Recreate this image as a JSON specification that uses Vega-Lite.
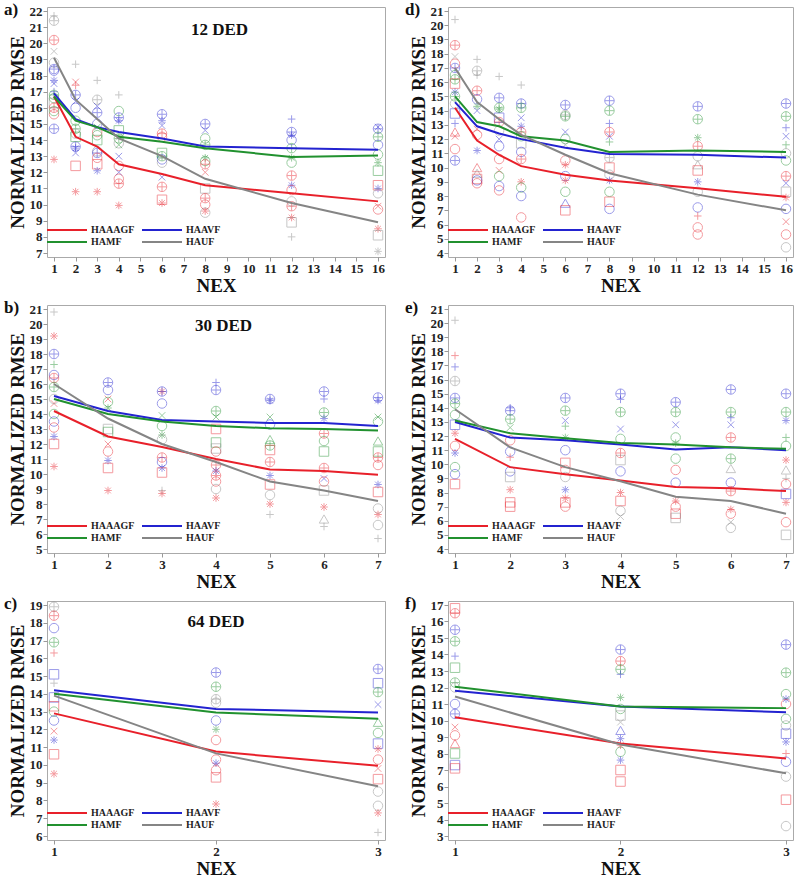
{
  "$schema": "https://vega.github.io/schema/vega-lite/v6.json",
  "padding": {"top": 0, "left": 3, "right": 3, "bottom": 0},
  "background": "white",
  "config": {
    "font": "Liberation Serif",
    "view": {"stroke": "#aaaaaa", "strokeWidth": 1},
    "axis": {
      "labelFont": "Liberation Serif", "labelFontWeight": "bold", "labelFontSize": 13, "labelColor": "#222222",
      "titleFont": "Liberation Serif", "titleFontWeight": "bold", "titleFontSize": 19, "titleColor": "#111111",
      "grid": false, "domain": false, "tickColor": "#999999", "tickSize": 4, "tickCount": 40,
      "labelPadding": 1, "titlePadding": 1, "labelOverlap": false, "labelFlush": false, "format": "d"
    },
    "axisY": {"titlePadding": 2},
    "legend": {
      "orient": "bottom-left", "columns": 2, "symbolType": "M-3.2,0H4.8", "symbolSize": 100,
      "symbolStrokeWidth": 2, "symbolOpacity": 1, "labelFont": "Liberation Serif", "labelFontWeight": "bold",
      "labelFontSize": 10, "labelColor": "#222222", "rowPadding": 1, "columnPadding": 3,
      "labelOffset": 22, "offset": 10, "padding": 0
    },
    "title": {"anchor": "start", "frame": "bounds", "font": "Liberation Serif", "fontSize": 17, "fontWeight": "bold", "color": "#111111", "offset": -14, "dx": -4}
  },
  "datasets": {
    "lns": [
      {"p":"a","x":1,"y":16.7,"m":"HAAAGF"},{"p":"a","x":2,"y":14.2,"m":"HAAAGF"},{"p":"a","x":3,"y":13.6,"m":"HAAAGF"},{"p":"a","x":4,"y":12.5,"m":"HAAAGF"},{"p":"a","x":6,"y":11.9,"m":"HAAAGF"},{"p":"a","x":8,"y":11.2,"m":"HAAAGF"},{"p":"a","x":12,"y":10.7,"m":"HAAAGF"},{"p":"a","x":16,"y":10.2,"m":"HAAAGF"},
      {"p":"a","x":1,"y":16.9,"m":"HAAVF"},{"p":"a","x":2,"y":15.3,"m":"HAAVF"},{"p":"a","x":3,"y":14.8,"m":"HAAVF"},{"p":"a","x":4,"y":14.5,"m":"HAAVF"},{"p":"a","x":6,"y":14.1,"m":"HAAVF"},{"p":"a","x":8,"y":13.6,"m":"HAAVF"},{"p":"a","x":12,"y":13.5,"m":"HAAVF"},{"p":"a","x":16,"y":13.4,"m":"HAAVF"},
      {"p":"a","x":1,"y":16.7,"m":"HAMF"},{"p":"a","x":2,"y":15.2,"m":"HAMF"},{"p":"a","x":3,"y":14.8,"m":"HAMF"},{"p":"a","x":4,"y":14.2,"m":"HAMF"},{"p":"a","x":6,"y":13.9,"m":"HAMF"},{"p":"a","x":8,"y":13.5,"m":"HAMF"},{"p":"a","x":12,"y":12.95,"m":"HAMF"},{"p":"a","x":16,"y":13.05,"m":"HAMF"},
      {"p":"a","x":1,"y":19.1,"m":"HAUF"},{"p":"a","x":2,"y":16.5,"m":"HAUF"},{"p":"a","x":3,"y":15.3,"m":"HAUF"},{"p":"a","x":4,"y":14.1,"m":"HAUF"},{"p":"a","x":6,"y":13.0,"m":"HAUF"},{"p":"a","x":8,"y":11.6,"m":"HAUF"},{"p":"a","x":12,"y":10.1,"m":"HAUF"},{"p":"a","x":16,"y":8.9,"m":"HAUF"},

      {"p":"d","x":1,"y":14.2,"m":"HAAAGF"},{"p":"d","x":2,"y":11.9,"m":"HAAAGF"},{"p":"d","x":3,"y":10.9,"m":"HAAAGF"},{"p":"d","x":4,"y":10.1,"m":"HAAAGF"},{"p":"d","x":6,"y":9.5,"m":"HAAAGF"},{"p":"d","x":8,"y":9.1,"m":"HAAAGF"},{"p":"d","x":12,"y":8.55,"m":"HAAAGF"},{"p":"d","x":16,"y":7.95,"m":"HAAAGF"},
      {"p":"d","x":1,"y":14.6,"m":"HAAVF"},{"p":"d","x":2,"y":12.9,"m":"HAAVF"},{"p":"d","x":3,"y":12.4,"m":"HAAVF"},{"p":"d","x":4,"y":12.0,"m":"HAAVF"},{"p":"d","x":6,"y":11.4,"m":"HAAVF"},{"p":"d","x":8,"y":10.95,"m":"HAAVF"},{"p":"d","x":12,"y":10.9,"m":"HAAVF"},{"p":"d","x":16,"y":10.7,"m":"HAAVF"},
      {"p":"d","x":1,"y":15.0,"m":"HAMF"},{"p":"d","x":2,"y":13.2,"m":"HAMF"},{"p":"d","x":3,"y":12.9,"m":"HAMF"},{"p":"d","x":4,"y":12.2,"m":"HAMF"},{"p":"d","x":6,"y":11.9,"m":"HAMF"},{"p":"d","x":8,"y":11.1,"m":"HAMF"},{"p":"d","x":12,"y":11.2,"m":"HAMF"},{"p":"d","x":16,"y":11.1,"m":"HAMF"},
      {"p":"d","x":1,"y":17.0,"m":"HAUF"},{"p":"d","x":2,"y":14.6,"m":"HAUF"},{"p":"d","x":3,"y":13.4,"m":"HAUF"},{"p":"d","x":4,"y":12.3,"m":"HAUF"},{"p":"d","x":6,"y":10.9,"m":"HAUF"},{"p":"d","x":8,"y":9.6,"m":"HAUF"},{"p":"d","x":12,"y":8.1,"m":"HAUF"},{"p":"d","x":16,"y":7.0,"m":"HAUF"},

      {"p":"b","x":1,"y":14.2,"m":"HAAAGF"},{"p":"b","x":2,"y":12.5,"m":"HAAAGF"},{"p":"b","x":3,"y":11.8,"m":"HAAAGF"},{"p":"b","x":4,"y":11.0,"m":"HAAAGF"},{"p":"b","x":5,"y":10.3,"m":"HAAAGF"},{"p":"b","x":6,"y":10.2,"m":"HAAAGF"},{"p":"b","x":7,"y":9.95,"m":"HAAAGF"},
      {"p":"b","x":1,"y":15.2,"m":"HAAVF"},{"p":"b","x":2,"y":14.2,"m":"HAAVF"},{"p":"b","x":3,"y":13.6,"m":"HAAVF"},{"p":"b","x":4,"y":13.5,"m":"HAAVF"},{"p":"b","x":5,"y":13.4,"m":"HAAVF"},{"p":"b","x":6,"y":13.4,"m":"HAAVF"},{"p":"b","x":7,"y":13.2,"m":"HAAVF"},
      {"p":"b","x":1,"y":15.0,"m":"HAMF"},{"p":"b","x":2,"y":14.0,"m":"HAMF"},{"p":"b","x":3,"y":13.5,"m":"HAMF"},{"p":"b","x":4,"y":13.2,"m":"HAMF"},{"p":"b","x":5,"y":13.05,"m":"HAMF"},{"p":"b","x":6,"y":13.0,"m":"HAMF"},{"p":"b","x":7,"y":12.9,"m":"HAMF"},
      {"p":"b","x":1,"y":16.0,"m":"HAUF"},{"p":"b","x":2,"y":13.7,"m":"HAUF"},{"p":"b","x":3,"y":12.0,"m":"HAUF"},{"p":"b","x":4,"y":10.8,"m":"HAUF"},{"p":"b","x":5,"y":9.5,"m":"HAUF"},{"p":"b","x":6,"y":8.9,"m":"HAUF"},{"p":"b","x":7,"y":8.2,"m":"HAUF"},

      {"p":"e","x":1,"y":11.8,"m":"HAAAGF"},{"p":"e","x":2,"y":9.8,"m":"HAAAGF"},{"p":"e","x":3,"y":9.3,"m":"HAAAGF"},{"p":"e","x":4,"y":8.85,"m":"HAAAGF"},{"p":"e","x":5,"y":8.4,"m":"HAAAGF"},{"p":"e","x":6,"y":8.3,"m":"HAAAGF"},{"p":"e","x":7,"y":8.1,"m":"HAAAGF"},
      {"p":"e","x":1,"y":13.0,"m":"HAAVF"},{"p":"e","x":2,"y":11.9,"m":"HAAVF"},{"p":"e","x":3,"y":11.7,"m":"HAAVF"},{"p":"e","x":4,"y":11.4,"m":"HAAVF"},{"p":"e","x":5,"y":11.05,"m":"HAAVF"},{"p":"e","x":6,"y":11.2,"m":"HAAVF"},{"p":"e","x":7,"y":11.0,"m":"HAAVF"},
      {"p":"e","x":1,"y":13.1,"m":"HAMF"},{"p":"e","x":2,"y":12.2,"m":"HAMF"},{"p":"e","x":3,"y":11.85,"m":"HAMF"},{"p":"e","x":4,"y":11.5,"m":"HAMF"},{"p":"e","x":5,"y":11.4,"m":"HAMF"},{"p":"e","x":6,"y":11.2,"m":"HAMF"},{"p":"e","x":7,"y":11.1,"m":"HAMF"},
      {"p":"e","x":1,"y":13.9,"m":"HAUF"},{"p":"e","x":2,"y":11.2,"m":"HAUF"},{"p":"e","x":3,"y":9.8,"m":"HAUF"},{"p":"e","x":4,"y":8.8,"m":"HAUF"},{"p":"e","x":5,"y":7.7,"m":"HAUF"},{"p":"e","x":6,"y":7.4,"m":"HAUF"},{"p":"e","x":7,"y":6.5,"m":"HAUF"},

      {"p":"c","x":1,"y":12.9,"m":"HAAAGF"},{"p":"c","x":2,"y":10.75,"m":"HAAAGF"},{"p":"c","x":3,"y":9.95,"m":"HAAAGF"},
      {"p":"c","x":1,"y":14.2,"m":"HAAVF"},{"p":"c","x":2,"y":13.15,"m":"HAAVF"},{"p":"c","x":3,"y":12.95,"m":"HAAVF"},
      {"p":"c","x":1,"y":14.0,"m":"HAMF"},{"p":"c","x":2,"y":12.95,"m":"HAMF"},{"p":"c","x":3,"y":12.6,"m":"HAMF"},
      {"p":"c","x":1,"y":13.9,"m":"HAUF"},{"p":"c","x":2,"y":10.65,"m":"HAUF"},{"p":"c","x":3,"y":8.8,"m":"HAUF"},

      {"p":"f","x":1,"y":10.2,"m":"HAAAGF"},{"p":"f","x":2,"y":8.6,"m":"HAAAGF"},{"p":"f","x":3,"y":7.7,"m":"HAAAGF"},
      {"p":"f","x":1,"y":11.8,"m":"HAAVF"},{"p":"f","x":2,"y":10.85,"m":"HAAVF"},{"p":"f","x":3,"y":10.5,"m":"HAAVF"},
      {"p":"f","x":1,"y":12.05,"m":"HAMF"},{"p":"f","x":2,"y":10.85,"m":"HAMF"},{"p":"f","x":3,"y":10.75,"m":"HAMF"},
      {"p":"f","x":1,"y":11.45,"m":"HAUF"},{"p":"f","x":2,"y":8.55,"m":"HAUF"},{"p":"f","x":3,"y":6.8,"m":"HAUF"}
    ],
    "pts": [
      {"p":"a","x":1,"y":21.7,"m":"HAUF","s":"+"},{"p":"a","x":1,"y":21.4,"m":"HAUF","s":"cp"},{"p":"a","x":1,"y":20.2,"m":"HAAAGF","s":"cp"},{"p":"a","x":1,"y":19.5,"m":"HAUF","s":"x"},{"p":"a","x":1,"y":18.8,"m":"HAUF","s":"o"},{"p":"a","x":1,"y":18.4,"m":"HAAVF","s":"cp"},{"p":"a","x":1,"y":18.3,"m":"HAAVF","s":"o"},{"p":"a","x":1,"y":17.7,"m":"HAAVF","s":"*"},{"p":"a","x":1,"y":17.5,"m":"HAAVF","s":"x"},{"p":"a","x":1,"y":17.0,"m":"HAAVF","s":"+"},{"p":"a","x":1,"y":16.6,"m":"HAMF","s":"o"},{"p":"a","x":1,"y":16.8,"m":"HAMF","s":"cp"},{"p":"a","x":1,"y":16.0,"m":"HAAAGF","s":"cp"},{"p":"a","x":1,"y":15.6,"m":"HAAAGF","s":"o"},{"p":"a","x":1,"y":15.8,"m":"HAMF","s":"o"},{"p":"a","x":1,"y":14.7,"m":"HAAVF","s":"cp"},{"p":"a","x":1,"y":12.8,"m":"HAAAGF","s":"*"},{"p":"a","x":1,"y":16.3,"m":"HAUF","s":"sq"},
      {"p":"a","x":2,"y":18.7,"m":"HAUF","s":"+"},{"p":"a","x":2,"y":17.6,"m":"HAAAGF","s":"x"},{"p":"a","x":2,"y":17.4,"m":"HAAAGF","s":"+"},{"p":"a","x":2,"y":16.8,"m":"HAAVF","s":"cp"},{"p":"a","x":2,"y":16.4,"m":"HAAVF","s":"x"},{"p":"a","x":2,"y":16.0,"m":"HAAVF","s":"o"},{"p":"a","x":2,"y":15.2,"m":"HAMF","s":"o"},{"p":"a","x":2,"y":14.7,"m":"HAMF","s":"cp"},{"p":"a","x":2,"y":14.4,"m":"HAUF","s":"o"},{"p":"a","x":2,"y":13.5,"m":"HAAVF","s":"*"},{"p":"a","x":2,"y":13.6,"m":"HAAVF","s":"cp"},{"p":"a","x":2,"y":13.2,"m":"HAAVF","s":"x"},{"p":"a","x":2,"y":12.4,"m":"HAAAGF","s":"sq"},{"p":"a","x":2,"y":10.8,"m":"HAAAGF","s":"*"},{"p":"a","x":2,"y":14.2,"m":"HAMF","s":"sq"},
      {"p":"a","x":3,"y":17.7,"m":"HAUF","s":"+"},{"p":"a","x":3,"y":16.5,"m":"HAUF","s":"cp"},{"p":"a","x":3,"y":16.1,"m":"HAAVF","s":"x"},{"p":"a","x":3,"y":15.7,"m":"HAAVF","s":"cp"},{"p":"a","x":3,"y":15.0,"m":"HAAVF","s":"o"},{"p":"a","x":3,"y":14.8,"m":"HAMF","s":"x"},{"p":"a","x":3,"y":14.5,"m":"HAAAGF","s":"o"},{"p":"a","x":3,"y":14.0,"m":"HAMF","s":"sq"},{"p":"a","x":3,"y":13.3,"m":"HAUF","s":"o"},{"p":"a","x":3,"y":13.2,"m":"HAAVF","s":"cp"},{"p":"a","x":3,"y":12.9,"m":"HAAAGF","s":"o"},{"p":"a","x":3,"y":12.5,"m":"HAAAGF","s":"sq"},{"p":"a","x":3,"y":12.1,"m":"HAAVF","s":"*"},{"p":"a","x":3,"y":10.8,"m":"HAAAGF","s":"*"},{"p":"a","x":3,"y":14.3,"m":"HAMF","s":"o"},
      {"p":"a","x":4,"y":16.8,"m":"HAUF","s":"+"},{"p":"a","x":4,"y":15.8,"m":"HAMF","s":"o"},{"p":"a","x":4,"y":15.4,"m":"HAAVF","s":"cp"},{"p":"a","x":4,"y":15.2,"m":"HAAVF","s":"*"},{"p":"a","x":4,"y":14.6,"m":"HAMF","s":"sq"},{"p":"a","x":4,"y":14.1,"m":"HAMF","s":"cp"},{"p":"a","x":4,"y":13.8,"m":"HAUF","s":"o"},{"p":"a","x":4,"y":13.7,"m":"HAMF","s":"x"},{"p":"a","x":4,"y":13.0,"m":"HAAVF","s":"x"},{"p":"a","x":4,"y":12.4,"m":"HAAAGF","s":"o"},{"p":"a","x":4,"y":12.0,"m":"HAAVF","s":"x"},{"p":"a","x":4,"y":11.6,"m":"HAAAGF","s":"o"},{"p":"a","x":4,"y":11.3,"m":"HAAAGF","s":"cp"},{"p":"a","x":4,"y":9.95,"m":"HAAAGF","s":"*"},
      {"p":"a","x":6,"y":15.6,"m":"HAAVF","s":"cp"},{"p":"a","x":6,"y":15.2,"m":"HAAVF","s":"*"},{"p":"a","x":6,"y":14.9,"m":"HAAVF","s":"x"},{"p":"a","x":6,"y":14.4,"m":"HAAAGF","s":"cp"},{"p":"a","x":6,"y":14.2,"m":"HAAAGF","s":"o"},{"p":"a","x":6,"y":13.2,"m":"HAMF","s":"sq"},{"p":"a","x":6,"y":13.0,"m":"HAMF","s":"cp"},{"p":"a","x":6,"y":12.8,"m":"HAAVF","s":"o"},{"p":"a","x":6,"y":12.6,"m":"HAUF","s":"o"},{"p":"a","x":6,"y":11.7,"m":"HAAVF","s":"x"},{"p":"a","x":6,"y":11.1,"m":"HAAAGF","s":"cp"},{"p":"a","x":6,"y":10.3,"m":"HAAAGF","s":"sq"},{"p":"a","x":6,"y":10.1,"m":"HAAAGF","s":"*"},
      {"p":"a","x":8,"y":15.0,"m":"HAAVF","s":"cp"},{"p":"a","x":8,"y":14.6,"m":"HAAVF","s":"x"},{"p":"a","x":8,"y":14.1,"m":"HAMF","s":"o"},{"p":"a","x":8,"y":13.7,"m":"HAMF","s":"cp"},{"p":"a","x":8,"y":12.9,"m":"HAMF","s":"*"},{"p":"a","x":8,"y":12.7,"m":"HAMF","s":"o"},{"p":"a","x":8,"y":12.5,"m":"HAAAGF","s":"cp"},{"p":"a","x":8,"y":12.0,"m":"HAAAGF","s":"x"},{"p":"a","x":8,"y":11.0,"m":"HAUF","s":"sq"},{"p":"a","x":8,"y":10.4,"m":"HAAAGF","s":"cp"},{"p":"a","x":8,"y":10.0,"m":"HAAAGF","s":"o"},{"p":"a","x":8,"y":9.6,"m":"HAAAGF","s":"*"},{"p":"a","x":8,"y":9.5,"m":"HAUF","s":"o"},
      {"p":"a","x":12,"y":15.3,"m":"HAAVF","s":"+"},{"p":"a","x":12,"y":14.5,"m":"HAAVF","s":"cp"},{"p":"a","x":12,"y":14.3,"m":"HAAVF","s":"*"},{"p":"a","x":12,"y":14.0,"m":"HAAVF","s":"o"},{"p":"a","x":12,"y":13.5,"m":"HAMF","s":"cp"},{"p":"a","x":12,"y":12.9,"m":"HAMF","s":"*"},{"p":"a","x":12,"y":12.6,"m":"HAMF","s":"o"},{"p":"a","x":12,"y":11.8,"m":"HAAAGF","s":"cp"},{"p":"a","x":12,"y":11.2,"m":"HAAVF","s":"*"},{"p":"a","x":12,"y":10.9,"m":"HAAAGF","s":"o"},{"p":"a","x":12,"y":10.2,"m":"HAUF","s":"o"},{"p":"a","x":12,"y":9.9,"m":"HAAAGF","s":"cp"},{"p":"a","x":12,"y":9.2,"m":"HAAAGF","s":"*"},{"p":"a","x":12,"y":8.9,"m":"HAUF","s":"sq"},{"p":"a","x":12,"y":8.0,"m":"HAUF","s":"+"},
      {"p":"a","x":16,"y":14.8,"m":"HAAVF","s":"x"},{"p":"a","x":16,"y":14.7,"m":"HAAVF","s":"cp"},{"p":"a","x":16,"y":14.2,"m":"HAMF","s":"cp"},{"p":"a","x":16,"y":13.7,"m":"HAAVF","s":"o"},{"p":"a","x":16,"y":13.1,"m":"HAMF","s":"o"},{"p":"a","x":16,"y":12.6,"m":"HAMF","s":"*"},{"p":"a","x":16,"y":12.1,"m":"HAMF","s":"sq"},{"p":"a","x":16,"y":11.2,"m":"HAAAGF","s":"sq"},{"p":"a","x":16,"y":11.0,"m":"HAAVF","s":"*"},{"p":"a","x":16,"y":9.9,"m":"HAAAGF","s":"x"},{"p":"a","x":16,"y":9.7,"m":"HAAAGF","s":"o"},{"p":"a","x":16,"y":8.5,"m":"HAAAGF","s":"*"},{"p":"a","x":16,"y":8.1,"m":"HAUF","s":"sq"},{"p":"a","x":16,"y":7.1,"m":"HAUF","s":"*"},{"p":"a","x":16,"y":10.7,"m":"HAUF","s":"o"},

      {"p":"d","x":1,"y":20.4,"m":"HAUF","s":"+"},{"p":"d","x":1,"y":18.6,"m":"HAAAGF","s":"cp"},{"p":"d","x":1,"y":17.8,"m":"HAUF","s":"x"},{"p":"d","x":1,"y":17.3,"m":"HAAAGF","s":"o"},{"p":"d","x":1,"y":17.0,"m":"HAAVF","s":"cp"},{"p":"d","x":1,"y":16.5,"m":"HAMF","s":"o"},{"p":"d","x":1,"y":16.2,"m":"HAMF","s":"cp"},{"p":"d","x":1,"y":15.9,"m":"HAAAGF","s":"sq"},{"p":"d","x":1,"y":15.3,"m":"HAAVF","s":"*"},{"p":"d","x":1,"y":15.0,"m":"HAMF","s":"cp"},{"p":"d","x":1,"y":13.8,"m":"HAAVF","s":"sq"},{"p":"d","x":1,"y":13.1,"m":"HAAVF","s":"+"},{"p":"d","x":1,"y":12.2,"m":"HAAAGF","s":"x"},{"p":"d","x":1,"y":12.5,"m":"HAAAGF","s":"tri"},{"p":"d","x":1,"y":11.3,"m":"HAAAGF","s":"o"},{"p":"d","x":1,"y":10.5,"m":"HAAVF","s":"cp"},{"p":"d","x":1,"y":14.5,"m":"HAUF","s":"o"},
      {"p":"d","x":2,"y":17.6,"m":"HAUF","s":"+"},{"p":"d","x":2,"y":16.8,"m":"HAUF","s":"cp"},{"p":"d","x":2,"y":16.5,"m":"HAUF","s":"+"},{"p":"d","x":2,"y":15.4,"m":"HAAAGF","s":"cp"},{"p":"d","x":2,"y":14.8,"m":"HAAVF","s":"o"},{"p":"d","x":2,"y":14.3,"m":"HAMF","s":"*"},{"p":"d","x":2,"y":14.0,"m":"HAAVF","s":"x"},{"p":"d","x":2,"y":12.7,"m":"HAAAGF","s":"x"},{"p":"d","x":2,"y":12.3,"m":"HAAAGF","s":"o"},{"p":"d","x":2,"y":11.2,"m":"HAAVF","s":"*"},{"p":"d","x":2,"y":10.0,"m":"HAAAGF","s":"tri"},{"p":"d","x":2,"y":9.6,"m":"HAUF","s":"tri"},{"p":"d","x":2,"y":9.2,"m":"HAAAGF","s":"sq"},{"p":"d","x":2,"y":9.1,"m":"HAAVF","s":"o"},{"p":"d","x":2,"y":8.9,"m":"HAAAGF","s":"o"},
      {"p":"d","x":3,"y":16.4,"m":"HAUF","s":"+"},{"p":"d","x":3,"y":14.9,"m":"HAAVF","s":"cp"},{"p":"d","x":3,"y":14.2,"m":"HAMF","s":"cp"},{"p":"d","x":3,"y":14.1,"m":"HAMF","s":"*"},{"p":"d","x":3,"y":13.5,"m":"HAAVF","s":"sq"},{"p":"d","x":3,"y":13.2,"m":"HAAAGF","s":"cp"},{"p":"d","x":3,"y":12.6,"m":"HAUF","s":"o"},{"p":"d","x":3,"y":12.0,"m":"HAAVF","s":"x"},{"p":"d","x":3,"y":11.5,"m":"HAAVF","s":"o"},{"p":"d","x":3,"y":10.6,"m":"HAAAGF","s":"o"},{"p":"d","x":3,"y":9.8,"m":"HAAAGF","s":"x"},{"p":"d","x":3,"y":9.4,"m":"HAMF","s":"o"},{"p":"d","x":3,"y":8.7,"m":"HAAVF","s":"o"},{"p":"d","x":3,"y":8.4,"m":"HAAAGF","s":"o"},
      {"p":"d","x":4,"y":15.8,"m":"HAUF","s":"+"},{"p":"d","x":4,"y":14.5,"m":"HAAVF","s":"cp"},{"p":"d","x":4,"y":14.2,"m":"HAMF","s":"cp"},{"p":"d","x":4,"y":13.5,"m":"HAAVF","s":"x"},{"p":"d","x":4,"y":12.9,"m":"HAAVF","s":"*"},{"p":"d","x":4,"y":12.5,"m":"HAAAGF","s":"cp"},{"p":"d","x":4,"y":12.2,"m":"HAMF","s":"o"},{"p":"d","x":4,"y":11.7,"m":"HAUF","s":"sq"},{"p":"d","x":4,"y":11.1,"m":"HAAVF","s":"o"},{"p":"d","x":4,"y":10.6,"m":"HAAAGF","s":"cp"},{"p":"d","x":4,"y":9.0,"m":"HAAAGF","s":"*"},{"p":"d","x":4,"y":8.6,"m":"HAMF","s":"o"},{"p":"d","x":4,"y":8.0,"m":"HAAVF","s":"o"},{"p":"d","x":4,"y":6.5,"m":"HAAAGF","s":"o"},
      {"p":"d","x":6,"y":14.4,"m":"HAAVF","s":"cp"},{"p":"d","x":6,"y":13.7,"m":"HAUF","s":"cp"},{"p":"d","x":6,"y":13.6,"m":"HAMF","s":"cp"},{"p":"d","x":6,"y":12.5,"m":"HAAVF","s":"x"},{"p":"d","x":6,"y":12.0,"m":"HAMF","s":"o"},{"p":"d","x":6,"y":11.6,"m":"HAUF","s":"x"},{"p":"d","x":6,"y":10.5,"m":"HAAAGF","s":"o"},{"p":"d","x":6,"y":10.2,"m":"HAAAGF","s":"*"},{"p":"d","x":6,"y":9.4,"m":"HAAVF","s":"o"},{"p":"d","x":6,"y":9.1,"m":"HAAAGF","s":"*"},{"p":"d","x":6,"y":8.3,"m":"HAMF","s":"o"},{"p":"d","x":6,"y":7.5,"m":"HAAVF","s":"tri"},{"p":"d","x":6,"y":7.0,"m":"HAAAGF","s":"sq"},
      {"p":"d","x":8,"y":14.7,"m":"HAAVF","s":"cp"},{"p":"d","x":8,"y":14.0,"m":"HAMF","s":"cp"},{"p":"d","x":8,"y":13.1,"m":"HAAVF","s":"+"},{"p":"d","x":8,"y":12.5,"m":"HAAAGF","s":"cp"},{"p":"d","x":8,"y":12.2,"m":"HAAVF","s":"x"},{"p":"d","x":8,"y":11.8,"m":"HAMF","s":"+"},{"p":"d","x":8,"y":10.7,"m":"HAUF","s":"cp"},{"p":"d","x":8,"y":10.0,"m":"HAAAGF","s":"sq"},{"p":"d","x":8,"y":9.5,"m":"HAUF","s":"o"},{"p":"d","x":8,"y":9.1,"m":"HAAVF","s":"*"},{"p":"d","x":8,"y":8.3,"m":"HAMF","s":"o"},{"p":"d","x":8,"y":7.6,"m":"HAAAGF","s":"sq"},{"p":"d","x":8,"y":7.1,"m":"HAAVF","s":"o"},
      {"p":"d","x":12,"y":14.3,"m":"HAAVF","s":"cp"},{"p":"d","x":12,"y":13.4,"m":"HAMF","s":"cp"},{"p":"d","x":12,"y":12.1,"m":"HAMF","s":"*"},{"p":"d","x":12,"y":11.5,"m":"HAAAGF","s":"cp"},{"p":"d","x":12,"y":10.8,"m":"HAUF","s":"o"},{"p":"d","x":12,"y":10.2,"m":"HAUF","s":"tri"},{"p":"d","x":12,"y":9.8,"m":"HAAAGF","s":"sq"},{"p":"d","x":12,"y":9.0,"m":"HAAVF","s":"*"},{"p":"d","x":12,"y":8.3,"m":"HAUF","s":"o"},{"p":"d","x":12,"y":7.2,"m":"HAAVF","s":"o"},{"p":"d","x":12,"y":6.6,"m":"HAAAGF","s":"+"},{"p":"d","x":12,"y":5.8,"m":"HAAAGF","s":"o"},{"p":"d","x":12,"y":5.3,"m":"HAAAGF","s":"o"},
      {"p":"d","x":16,"y":14.5,"m":"HAAVF","s":"cp"},{"p":"d","x":16,"y":13.6,"m":"HAMF","s":"cp"},{"p":"d","x":16,"y":12.8,"m":"HAAVF","s":"+"},{"p":"d","x":16,"y":12.2,"m":"HAAVF","s":"x"},{"p":"d","x":16,"y":11.6,"m":"HAMF","s":"+"},{"p":"d","x":16,"y":11.0,"m":"HAUF","s":"o"},{"p":"d","x":16,"y":10.5,"m":"HAMF","s":"o"},{"p":"d","x":16,"y":9.4,"m":"HAAAGF","s":"cp"},{"p":"d","x":16,"y":8.9,"m":"HAAVF","s":"x"},{"p":"d","x":16,"y":8.3,"m":"HAUF","s":"sq"},{"p":"d","x":16,"y":7.9,"m":"HAAAGF","s":"*"},{"p":"d","x":16,"y":7.1,"m":"HAAVF","s":"o"},{"p":"d","x":16,"y":6.2,"m":"HAAAGF","s":"x"},{"p":"d","x":16,"y":5.3,"m":"HAAAGF","s":"o"},{"p":"d","x":16,"y":4.4,"m":"HAUF","s":"o"},

      {"p":"b","x":1,"y":20.8,"m":"HAUF","s":"+"},{"p":"b","x":1,"y":19.2,"m":"HAAAGF","s":"*"},{"p":"b","x":1,"y":18.0,"m":"HAAVF","s":"cp"},{"p":"b","x":1,"y":17.3,"m":"HAMF","s":"+"},{"p":"b","x":1,"y":16.6,"m":"HAAVF","s":"o"},{"p":"b","x":1,"y":16.4,"m":"HAAAGF","s":"cp"},{"p":"b","x":1,"y":15.8,"m":"HAMF","s":"cp"},{"p":"b","x":1,"y":14.7,"m":"HAAAGF","s":"x"},{"p":"b","x":1,"y":14.0,"m":"HAMF","s":"o"},{"p":"b","x":1,"y":13.5,"m":"HAAVF","s":"o"},{"p":"b","x":1,"y":13.1,"m":"HAAAGF","s":"o"},{"p":"b","x":1,"y":12.5,"m":"HAAVF","s":"*"},{"p":"b","x":1,"y":12.0,"m":"HAAAGF","s":"sq"},{"p":"b","x":1,"y":10.5,"m":"HAAAGF","s":"*"},{"p":"b","x":1,"y":15.0,"m":"HAUF","s":"o"},
      {"p":"b","x":2,"y":16.1,"m":"HAAVF","s":"cp"},{"p":"b","x":2,"y":15.6,"m":"HAAVF","s":"o"},{"p":"b","x":2,"y":15.0,"m":"HAAAGF","s":"x"},{"p":"b","x":2,"y":14.8,"m":"HAMF","s":"o"},{"p":"b","x":2,"y":14.4,"m":"HAMF","s":"*"},{"p":"b","x":2,"y":13.0,"m":"HAUF","s":"sq"},{"p":"b","x":2,"y":12.8,"m":"HAMF","s":"sq"},{"p":"b","x":2,"y":12.0,"m":"HAAAGF","s":"x"},{"p":"b","x":2,"y":11.5,"m":"HAAAGF","s":"o"},{"p":"b","x":2,"y":10.9,"m":"HAAVF","s":"*"},{"p":"b","x":2,"y":10.4,"m":"HAAAGF","s":"sq"},{"p":"b","x":2,"y":8.9,"m":"HAAAGF","s":"*"},
      {"p":"b","x":3,"y":15.5,"m":"HAAAGF","s":"*"},{"p":"b","x":3,"y":15.5,"m":"HAAVF","s":"cp"},{"p":"b","x":3,"y":14.7,"m":"HAAVF","s":"o"},{"p":"b","x":3,"y":13.9,"m":"HAMF","s":"x"},{"p":"b","x":3,"y":13.2,"m":"HAMF","s":"o"},{"p":"b","x":3,"y":12.6,"m":"HAMF","s":"*"},{"p":"b","x":3,"y":12.3,"m":"HAUF","s":"o"},{"p":"b","x":3,"y":11.1,"m":"HAAAGF","s":"cp"},{"p":"b","x":3,"y":10.8,"m":"HAAVF","s":"o"},{"p":"b","x":3,"y":10.4,"m":"HAAVF","s":"*"},{"p":"b","x":3,"y":10.1,"m":"HAAAGF","s":"sq"},{"p":"b","x":3,"y":8.9,"m":"HAUF","s":"+"},{"p":"b","x":3,"y":8.7,"m":"HAAAGF","s":"*"},
      {"p":"b","x":4,"y":16.1,"m":"HAAVF","s":"+"},{"p":"b","x":4,"y":15.6,"m":"HAAVF","s":"cp"},{"p":"b","x":4,"y":14.2,"m":"HAMF","s":"cp"},{"p":"b","x":4,"y":13.8,"m":"HAMF","s":"x"},{"p":"b","x":4,"y":13.0,"m":"HAAAGF","s":"sq"},{"p":"b","x":4,"y":12.1,"m":"HAMF","s":"sq"},{"p":"b","x":4,"y":11.5,"m":"HAAAGF","s":"o"},{"p":"b","x":4,"y":11.7,"m":"HAUF","s":"sq"},{"p":"b","x":4,"y":10.6,"m":"HAAAGF","s":"cp"},{"p":"b","x":4,"y":10.2,"m":"HAAVF","s":"*"},{"p":"b","x":4,"y":9.9,"m":"HAAAGF","s":"cp"},{"p":"b","x":4,"y":9.5,"m":"HAAAGF","s":"o"},{"p":"b","x":4,"y":9.0,"m":"HAUF","s":"o"},{"p":"b","x":4,"y":8.4,"m":"HAAAGF","s":"*"},
      {"p":"b","x":5,"y":15.0,"m":"HAAVF","s":"cp"},{"p":"b","x":5,"y":14.9,"m":"HAAVF","s":"*"},{"p":"b","x":5,"y":13.8,"m":"HAMF","s":"x"},{"p":"b","x":5,"y":13.3,"m":"HAAVF","s":"o"},{"p":"b","x":5,"y":12.3,"m":"HAMF","s":"tri"},{"p":"b","x":5,"y":11.9,"m":"HAMF","s":"cp"},{"p":"b","x":5,"y":11.6,"m":"HAAAGF","s":"sq"},{"p":"b","x":5,"y":10.8,"m":"HAAAGF","s":"cp"},{"p":"b","x":5,"y":9.9,"m":"HAAVF","s":"*"},{"p":"b","x":5,"y":9.3,"m":"HAAAGF","s":"sq"},{"p":"b","x":5,"y":8.6,"m":"HAUF","s":"o"},{"p":"b","x":5,"y":8.0,"m":"HAAAGF","s":"*"},{"p":"b","x":5,"y":7.3,"m":"HAUF","s":"+"},
      {"p":"b","x":6,"y":15.5,"m":"HAAVF","s":"cp"},{"p":"b","x":6,"y":15.0,"m":"HAAVF","s":"+"},{"p":"b","x":6,"y":14.1,"m":"HAMF","s":"cp"},{"p":"b","x":6,"y":13.7,"m":"HAAVF","s":"*"},{"p":"b","x":6,"y":12.7,"m":"HAAAGF","s":"cp"},{"p":"b","x":6,"y":12.2,"m":"HAMF","s":"o"},{"p":"b","x":6,"y":11.5,"m":"HAMF","s":"sq"},{"p":"b","x":6,"y":10.4,"m":"HAAAGF","s":"cp"},{"p":"b","x":6,"y":9.7,"m":"HAAVF","s":"x"},{"p":"b","x":6,"y":9.5,"m":"HAAAGF","s":"o"},{"p":"b","x":6,"y":8.9,"m":"HAUF","s":"sq"},{"p":"b","x":6,"y":7.8,"m":"HAAAGF","s":"*"},{"p":"b","x":6,"y":7.0,"m":"HAUF","s":"tri"},{"p":"b","x":6,"y":6.5,"m":"HAUF","s":"+"},
      {"p":"b","x":7,"y":15.1,"m":"HAAVF","s":"cp"},{"p":"b","x":7,"y":14.9,"m":"HAAVF","s":"*"},{"p":"b","x":7,"y":13.8,"m":"HAMF","s":"x"},{"p":"b","x":7,"y":13.5,"m":"HAMF","s":"o"},{"p":"b","x":7,"y":12.2,"m":"HAMF","s":"tri"},{"p":"b","x":7,"y":11.5,"m":"HAMF","s":"sq"},{"p":"b","x":7,"y":11.1,"m":"HAAAGF","s":"cp"},{"p":"b","x":7,"y":10.6,"m":"HAAAGF","s":"o"},{"p":"b","x":7,"y":9.3,"m":"HAAVF","s":"*"},{"p":"b","x":7,"y":8.8,"m":"HAAAGF","s":"sq"},{"p":"b","x":7,"y":7.7,"m":"HAUF","s":"o"},{"p":"b","x":7,"y":7.3,"m":"HAAAGF","s":"*"},{"p":"b","x":7,"y":6.6,"m":"HAUF","s":"o"},{"p":"b","x":7,"y":5.7,"m":"HAUF","s":"+"},

      {"p":"e","x":1,"y":20.2,"m":"HAUF","s":"+"},{"p":"e","x":1,"y":17.7,"m":"HAAAGF","s":"+"},{"p":"e","x":1,"y":16.9,"m":"HAAVF","s":"+"},{"p":"e","x":1,"y":15.9,"m":"HAUF","s":"cp"},{"p":"e","x":1,"y":14.7,"m":"HAAVF","s":"cp"},{"p":"e","x":1,"y":14.3,"m":"HAMF","s":"cp"},{"p":"e","x":1,"y":13.5,"m":"HAMF","s":"o"},{"p":"e","x":1,"y":12.8,"m":"HAAVF","s":"sq"},{"p":"e","x":1,"y":12.2,"m":"HAAAGF","s":"*"},{"p":"e","x":1,"y":11.3,"m":"HAAAGF","s":"o"},{"p":"e","x":1,"y":10.8,"m":"HAAVF","s":"*"},{"p":"e","x":1,"y":9.8,"m":"HAMF","s":"o"},{"p":"e","x":1,"y":9.3,"m":"HAAVF","s":"o"},{"p":"e","x":1,"y":8.6,"m":"HAAAGF","s":"sq"},
      {"p":"e","x":2,"y":14.0,"m":"HAAVF","s":"+"},{"p":"e","x":2,"y":13.8,"m":"HAAVF","s":"cp"},{"p":"e","x":2,"y":13.2,"m":"HAMF","s":"cp"},{"p":"e","x":2,"y":12.6,"m":"HAMF","s":"x"},{"p":"e","x":2,"y":11.7,"m":"HAAAGF","s":"o"},{"p":"e","x":2,"y":10.9,"m":"HAAVF","s":"o"},{"p":"e","x":2,"y":10.5,"m":"HAAAGF","s":"+"},{"p":"e","x":2,"y":9.5,"m":"HAAVF","s":"o"},{"p":"e","x":2,"y":9.1,"m":"HAUF","s":"sq"},{"p":"e","x":2,"y":8.2,"m":"HAAAGF","s":"*"},{"p":"e","x":2,"y":7.3,"m":"HAAAGF","s":"sq"},{"p":"e","x":2,"y":7.0,"m":"HAAAGF","s":"sq"},
      {"p":"e","x":3,"y":14.7,"m":"HAAVF","s":"cp"},{"p":"e","x":3,"y":13.8,"m":"HAMF","s":"cp"},{"p":"e","x":3,"y":13.1,"m":"HAAVF","s":"x"},{"p":"e","x":3,"y":12.7,"m":"HAMF","s":"+"},{"p":"e","x":3,"y":11.9,"m":"HAMF","s":"*"},{"p":"e","x":3,"y":11.0,"m":"HAAVF","s":"o"},{"p":"e","x":3,"y":10.1,"m":"HAAAGF","s":"sq"},{"p":"e","x":3,"y":9.6,"m":"HAAAGF","s":"o"},{"p":"e","x":3,"y":9.1,"m":"HAUF","s":"o"},{"p":"e","x":3,"y":8.2,"m":"HAAVF","s":"*"},{"p":"e","x":3,"y":7.6,"m":"HAAAGF","s":"*"},{"p":"e","x":3,"y":7.3,"m":"HAAAGF","s":"sq"},{"p":"e","x":3,"y":7.0,"m":"HAAAGF","s":"o"},
      {"p":"e","x":4,"y":15.0,"m":"HAAVF","s":"cp"},{"p":"e","x":4,"y":14.6,"m":"HAAVF","s":"+"},{"p":"e","x":4,"y":13.7,"m":"HAMF","s":"cp"},{"p":"e","x":4,"y":12.5,"m":"HAAVF","s":"x"},{"p":"e","x":4,"y":11.8,"m":"HAMF","s":"o"},{"p":"e","x":4,"y":10.8,"m":"HAAAGF","s":"cp"},{"p":"e","x":4,"y":10.3,"m":"HAUF","s":"sq"},{"p":"e","x":4,"y":9.5,"m":"HAAVF","s":"o"},{"p":"e","x":4,"y":8.0,"m":"HAAAGF","s":"*"},{"p":"e","x":4,"y":7.4,"m":"HAAAGF","s":"sq"},{"p":"e","x":4,"y":6.7,"m":"HAUF","s":"o"},{"p":"e","x":4,"y":6.3,"m":"HAUF","s":"x"},
      {"p":"e","x":5,"y":14.4,"m":"HAAVF","s":"cp"},{"p":"e","x":5,"y":13.7,"m":"HAMF","s":"cp"},{"p":"e","x":5,"y":12.8,"m":"HAAVF","s":"x"},{"p":"e","x":5,"y":11.9,"m":"HAMF","s":"o"},{"p":"e","x":5,"y":11.5,"m":"HAMF","s":"*"},{"p":"e","x":5,"y":10.4,"m":"HAMF","s":"o"},{"p":"e","x":5,"y":9.6,"m":"HAAAGF","s":"o"},{"p":"e","x":5,"y":8.7,"m":"HAAVF","s":"o"},{"p":"e","x":5,"y":7.4,"m":"HAAAGF","s":"*"},{"p":"e","x":5,"y":7.0,"m":"HAAAGF","s":"o"},{"p":"e","x":5,"y":6.5,"m":"HAAAGF","s":"sq"},{"p":"e","x":5,"y":6.2,"m":"HAUF","s":"sq"},
      {"p":"e","x":6,"y":15.3,"m":"HAAVF","s":"cp"},{"p":"e","x":6,"y":13.7,"m":"HAMF","s":"cp"},{"p":"e","x":6,"y":13.3,"m":"HAAVF","s":"+"},{"p":"e","x":6,"y":12.8,"m":"HAAVF","s":"x"},{"p":"e","x":6,"y":11.9,"m":"HAAAGF","s":"cp"},{"p":"e","x":6,"y":10.4,"m":"HAMF","s":"cp"},{"p":"e","x":6,"y":9.7,"m":"HAUF","s":"tri"},{"p":"e","x":6,"y":8.7,"m":"HAAVF","s":"o"},{"p":"e","x":6,"y":8.1,"m":"HAAAGF","s":"cp"},{"p":"e","x":6,"y":6.8,"m":"HAAAGF","s":"*"},{"p":"e","x":6,"y":6.5,"m":"HAAAGF","s":"o"},{"p":"e","x":6,"y":5.9,"m":"HAUF","s":"x"},{"p":"e","x":6,"y":5.5,"m":"HAUF","s":"o"},
      {"p":"e","x":7,"y":15.0,"m":"HAAVF","s":"cp"},{"p":"e","x":7,"y":13.7,"m":"HAMF","s":"cp"},{"p":"e","x":7,"y":13.1,"m":"HAAVF","s":"*"},{"p":"e","x":7,"y":11.9,"m":"HAMF","s":"+"},{"p":"e","x":7,"y":11.3,"m":"HAMF","s":"o"},{"p":"e","x":7,"y":10.3,"m":"HAAAGF","s":"*"},{"p":"e","x":7,"y":9.6,"m":"HAUF","s":"tri"},{"p":"e","x":7,"y":9.0,"m":"HAUF","s":"+"},{"p":"e","x":7,"y":8.6,"m":"HAAAGF","s":"o"},{"p":"e","x":7,"y":7.9,"m":"HAAVF","s":"sq"},{"p":"e","x":7,"y":7.3,"m":"HAAAGF","s":"*"},{"p":"e","x":7,"y":5.9,"m":"HAAAGF","s":"o"},{"p":"e","x":7,"y":5.0,"m":"HAUF","s":"sq"},

      {"p":"c","x":1,"y":18.9,"m":"HAUF","s":"cp"},{"p":"c","x":1,"y":18.4,"m":"HAAAGF","s":"cp"},{"p":"c","x":1,"y":17.7,"m":"HAAVF","s":"o"},{"p":"c","x":1,"y":16.9,"m":"HAMF","s":"cp"},{"p":"c","x":1,"y":16.3,"m":"HAAAGF","s":"+"},{"p":"c","x":1,"y":15.1,"m":"HAAVF","s":"sq"},{"p":"c","x":1,"y":14.6,"m":"HAUF","s":"+"},{"p":"c","x":1,"y":13.8,"m":"HAAVF","s":"sq"},{"p":"c","x":1,"y":13.3,"m":"HAAAGF","s":"sq"},{"p":"c","x":1,"y":13.0,"m":"HAMF","s":"o"},{"p":"c","x":1,"y":12.5,"m":"HAAVF","s":"o"},{"p":"c","x":1,"y":11.9,"m":"HAAAGF","s":"x"},{"p":"c","x":1,"y":11.4,"m":"HAAVF","s":"*"},{"p":"c","x":1,"y":10.6,"m":"HAAAGF","s":"sq"},{"p":"c","x":1,"y":9.5,"m":"HAAAGF","s":"*"},
      {"p":"c","x":2,"y":15.2,"m":"HAAVF","s":"cp"},{"p":"c","x":2,"y":14.4,"m":"HAMF","s":"cp"},{"p":"c","x":2,"y":13.7,"m":"HAUF","s":"cp"},{"p":"c","x":2,"y":13.5,"m":"HAUF","s":"o"},{"p":"c","x":2,"y":12.5,"m":"HAAVF","s":"o"},{"p":"c","x":2,"y":12.0,"m":"HAMF","s":"*"},{"p":"c","x":2,"y":11.4,"m":"HAAAGF","s":"o"},{"p":"c","x":2,"y":10.3,"m":"HAAAGF","s":"o"},{"p":"c","x":2,"y":10.1,"m":"HAAVF","s":"*"},{"p":"c","x":2,"y":9.7,"m":"HAAAGF","s":"o"},{"p":"c","x":2,"y":9.3,"m":"HAAAGF","s":"sq"},{"p":"c","x":2,"y":7.8,"m":"HAAAGF","s":"*"},
      {"p":"c","x":3,"y":15.4,"m":"HAAVF","s":"cp"},{"p":"c","x":3,"y":14.6,"m":"HAAVF","s":"sq"},{"p":"c","x":3,"y":14.1,"m":"HAMF","s":"cp"},{"p":"c","x":3,"y":13.4,"m":"HAAVF","s":"x"},{"p":"c","x":3,"y":12.4,"m":"HAMF","s":"tri"},{"p":"c","x":3,"y":11.8,"m":"HAMF","s":"o"},{"p":"c","x":3,"y":11.2,"m":"HAAVF","s":"sq"},{"p":"c","x":3,"y":10.9,"m":"HAAAGF","s":"*"},{"p":"c","x":3,"y":10.3,"m":"HAAAGF","s":"o"},{"p":"c","x":3,"y":9.8,"m":"HAAAGF","s":"x"},{"p":"c","x":3,"y":9.2,"m":"HAAAGF","s":"sq"},{"p":"c","x":3,"y":8.5,"m":"HAUF","s":"o"},{"p":"c","x":3,"y":7.7,"m":"HAUF","s":"o"},{"p":"c","x":3,"y":7.3,"m":"HAAAGF","s":"*"},{"p":"c","x":3,"y":6.2,"m":"HAUF","s":"+"},

      {"p":"f","x":1,"y":16.8,"m":"HAAAGF","s":"sq"},{"p":"f","x":1,"y":16.5,"m":"HAAAGF","s":"cp"},{"p":"f","x":1,"y":15.5,"m":"HAAVF","s":"cp"},{"p":"f","x":1,"y":14.8,"m":"HAMF","s":"cp"},{"p":"f","x":1,"y":13.9,"m":"HAAVF","s":"+"},{"p":"f","x":1,"y":13.2,"m":"HAMF","s":"sq"},{"p":"f","x":1,"y":12.3,"m":"HAMF","s":"cp"},{"p":"f","x":1,"y":12.0,"m":"HAUF","s":"o"},{"p":"f","x":1,"y":11.0,"m":"HAAVF","s":"o"},{"p":"f","x":1,"y":10.4,"m":"HAAVF","s":"cp"},{"p":"f","x":1,"y":9.6,"m":"HAAAGF","s":"x"},{"p":"f","x":1,"y":9.1,"m":"HAAAGF","s":"o"},{"p":"f","x":1,"y":8.6,"m":"HAAAGF","s":"tri"},{"p":"f","x":1,"y":8.0,"m":"HAMF","s":"sq"},{"p":"f","x":1,"y":7.3,"m":"HAAVF","s":"sq"},{"p":"f","x":1,"y":7.1,"m":"HAAAGF","s":"sq"},
      {"p":"f","x":2,"y":14.3,"m":"HAAVF","s":"cp"},{"p":"f","x":2,"y":13.6,"m":"HAAAGF","s":"cp"},{"p":"f","x":2,"y":13.1,"m":"HAMF","s":"cp"},{"p":"f","x":2,"y":12.8,"m":"HAAVF","s":"+"},{"p":"f","x":2,"y":11.4,"m":"HAMF","s":"*"},{"p":"f","x":2,"y":10.7,"m":"HAMF","s":"o"},{"p":"f","x":2,"y":10.3,"m":"HAUF","s":"sq"},{"p":"f","x":2,"y":9.9,"m":"HAUF","s":"x"},{"p":"f","x":2,"y":9.4,"m":"HAAVF","s":"tri"},{"p":"f","x":2,"y":8.9,"m":"HAAVF","s":"*"},{"p":"f","x":2,"y":8.5,"m":"HAAAGF","s":"*"},{"p":"f","x":2,"y":8.1,"m":"HAMF","s":"o"},{"p":"f","x":2,"y":7.6,"m":"HAAVF","s":"*"},{"p":"f","x":2,"y":7.0,"m":"HAAAGF","s":"sq"},{"p":"f","x":2,"y":6.3,"m":"HAAAGF","s":"sq"},
      {"p":"f","x":3,"y":14.6,"m":"HAAVF","s":"cp"},{"p":"f","x":3,"y":12.9,"m":"HAMF","s":"cp"},{"p":"f","x":3,"y":11.6,"m":"HAMF","s":"o"},{"p":"f","x":3,"y":11.3,"m":"HAAVF","s":"*"},{"p":"f","x":3,"y":11.0,"m":"HAAAGF","s":"o"},{"p":"f","x":3,"y":10.1,"m":"HAMF","s":"o"},{"p":"f","x":3,"y":9.7,"m":"HAUF","s":"o"},{"p":"f","x":3,"y":9.2,"m":"HAAVF","s":"sq"},{"p":"f","x":3,"y":8.7,"m":"HAAVF","s":"*"},{"p":"f","x":3,"y":8.0,"m":"HAAAGF","s":"+"},{"p":"f","x":3,"y":7.5,"m":"HAAVF","s":"o"},{"p":"f","x":3,"y":6.6,"m":"HAUF","s":"o"},{"p":"f","x":3,"y":5.2,"m":"HAAAGF","s":"sq"},{"p":"f","x":3,"y":3.6,"m":"HAUF","s":"o"}
    ]
  },
  "resolve": {"scale": {"color": "independent", "shape": "independent"}, "legend": {"color": "independent", "shape": "independent"}},
  "spacing": 2,
  "vconcat": [
    {
      "resolve": {"scale": {"color": "independent", "shape": "independent"}, "legend": {"color": "independent", "shape": "independent"}},
      "spacing": 18,
      "hconcat": [
        {
          "width": 338, "height": 250, "title": "a)",
          "layer": [
            {"data": {"name": "pts"}, "transform": [{"filter": "datum.p == 'a'"}],
             "mark": {"type": "point", "filled": false, "strokeWidth": 1, "opacity": 0.45, "size": 90},
             "encoding": {
               "x": {"field": "x", "type": "quantitative", "title": "NEX", "scale": {"domain": [1, 16], "padding": 7, "nice": false, "zero": false}, "axis": {"values": [1,2,3,4,5,6,7,8,9,10,11,12,13,14,15,16], "labelOverlap": false}},
               "y": {"field": "y", "type": "quantitative", "title": "NORMALIZED RMSE", "scale": {"domain": [7, 22], "padding": 4, "nice": false, "zero": false}, "axis": {"values": [7,8,9,10,11,12,13,14,15,16,17,18,19,20,21,22], "labelOverlap": false}},
               "color": {"field": "m", "type": "nominal", "title": null, "scale": {"domain": ["HAAAGF","HAMF","HAAVF","HAUF"], "range": ["#e8202a","#21912f","#2323d0","#858585"]}},
               "shape": {"field": "s", "type": "nominal", "legend": null, "scale": {"domain": ["o","cp","sq","tri","+","x","*"], "range": ["circle","M1,0A1,1 0 1,1 -1,0A1,1 0 1,1 1,0ZM-1,0H1M0,-1V1","square","triangle-up","M-0.8,0H0.8M0,-0.8V0.8","M-0.7,-0.7L0.7,0.7M-0.7,0.7L0.7,-0.7","M-0.8,0H0.8M0,-0.8V0.8M-0.6,-0.6L0.6,0.6M-0.6,0.6L0.6,-0.6"]}}
             }},
            {"data": {"name": "lns"}, "transform": [{"filter": "datum.p == 'a'"}],
             "mark": {"type": "line", "strokeWidth": 2},
             "encoding": {"x": {"field": "x", "type": "quantitative"}, "y": {"field": "y", "type": "quantitative"}, "color": {"field": "m", "type": "nominal"}}},
            {"data": {"values": [{"t": "12 DED"}]},
             "mark": {"type": "text", "font": "Liberation Serif", "fontSize": 17, "fontWeight": "bold", "color": "#111111"},
             "encoding": {"x": {"datum": 8.66}, "y": {"datum": 20.85}, "text": {"field": "t"}}}
          ]
        },
        {
          "width": 345, "height": 250, "title": "d)",
          "layer": [
            {"data": {"name": "pts"}, "transform": [{"filter": "datum.p == 'd'"}],
             "mark": {"type": "point", "filled": false, "strokeWidth": 1, "opacity": 0.45, "size": 90},
             "encoding": {
               "x": {"field": "x", "type": "quantitative", "title": "NEX", "scale": {"domain": [1, 16], "padding": 7, "nice": false, "zero": false}, "axis": {"values": [1,2,3,4,5,6,7,8,9,10,11,12,13,14,15,16], "labelOverlap": false}},
               "y": {"field": "y", "type": "quantitative", "title": "NORMALIZED RMSE", "scale": {"domain": [4, 21], "padding": 4, "nice": false, "zero": false}, "axis": {"values": [4,5,6,7,8,9,10,11,12,13,14,15,16,17,18,19,20,21], "labelOverlap": false}},
               "color": {"field": "m", "type": "nominal", "title": null, "scale": {"domain": ["HAAAGF","HAMF","HAAVF","HAUF"], "range": ["#e8202a","#21912f","#2323d0","#858585"]}},
               "shape": {"field": "s", "type": "nominal", "legend": null, "scale": {"domain": ["o","cp","sq","tri","+","x","*"], "range": ["circle","M1,0A1,1 0 1,1 -1,0A1,1 0 1,1 1,0ZM-1,0H1M0,-1V1","square","triangle-up","M-0.8,0H0.8M0,-0.8V0.8","M-0.7,-0.7L0.7,0.7M-0.7,0.7L0.7,-0.7","M-0.8,0H0.8M0,-0.8V0.8M-0.6,-0.6L0.6,0.6M-0.6,0.6L0.6,-0.6"]}}
             }},
            {"data": {"name": "lns"}, "transform": [{"filter": "datum.p == 'd'"}],
             "mark": {"type": "line", "strokeWidth": 2},
             "encoding": {"x": {"field": "x", "type": "quantitative"}, "y": {"field": "y", "type": "quantitative"}, "color": {"field": "m", "type": "nominal"}}}
          ]
        }
      ]
    },
    {
      "resolve": {"scale": {"color": "independent", "shape": "independent"}, "legend": {"color": "independent", "shape": "independent"}},
      "spacing": 18,
      "hconcat": [
        {
          "width": 338, "height": 248, "title": "b)",
          "layer": [
            {"data": {"name": "pts"}, "transform": [{"filter": "datum.p == 'b'"}],
             "mark": {"type": "point", "filled": false, "strokeWidth": 1, "opacity": 0.45, "size": 90},
             "encoding": {
               "x": {"field": "x", "type": "quantitative", "title": "NEX", "scale": {"domain": [1, 7], "padding": 7, "nice": false, "zero": false}, "axis": {"values": [1,2,3,4,5,6,7], "labelOverlap": false}},
               "y": {"field": "y", "type": "quantitative", "title": "NORMALIZED RMSE", "scale": {"domain": [5, 21], "padding": 4, "nice": false, "zero": false}, "axis": {"values": [5,6,7,8,9,10,11,12,13,14,15,16,17,18,19,20,21], "labelOverlap": false}},
               "color": {"field": "m", "type": "nominal", "title": null, "scale": {"domain": ["HAAAGF","HAMF","HAAVF","HAUF"], "range": ["#e8202a","#21912f","#2323d0","#858585"]}},
               "shape": {"field": "s", "type": "nominal", "legend": null, "scale": {"domain": ["o","cp","sq","tri","+","x","*"], "range": ["circle","M1,0A1,1 0 1,1 -1,0A1,1 0 1,1 1,0ZM-1,0H1M0,-1V1","square","triangle-up","M-0.8,0H0.8M0,-0.8V0.8","M-0.7,-0.7L0.7,0.7M-0.7,0.7L0.7,-0.7","M-0.8,0H0.8M0,-0.8V0.8M-0.6,-0.6L0.6,0.6M-0.6,0.6L0.6,-0.6"]}}
             }},
            {"data": {"name": "lns"}, "transform": [{"filter": "datum.p == 'b'"}],
             "mark": {"type": "line", "strokeWidth": 2},
             "encoding": {"x": {"field": "x", "type": "quantitative"}, "y": {"field": "y", "type": "quantitative"}, "color": {"field": "m", "type": "nominal"}}},
            {"data": {"values": [{"t": "30 DED"}]},
             "mark": {"type": "text", "font": "Liberation Serif", "fontSize": 17, "fontWeight": "bold", "color": "#111111"},
             "encoding": {"x": {"datum": 4.14}, "y": {"datum": 19.9}, "text": {"field": "t"}}}
          ]
        },
        {
          "width": 345, "height": 248, "title": "e)",
          "layer": [
            {"data": {"name": "pts"}, "transform": [{"filter": "datum.p == 'e'"}],
             "mark": {"type": "point", "filled": false, "strokeWidth": 1, "opacity": 0.45, "size": 90},
             "encoding": {
               "x": {"field": "x", "type": "quantitative", "title": "NEX", "scale": {"domain": [1, 7], "padding": 7, "nice": false, "zero": false}, "axis": {"values": [1,2,3,4,5,6,7], "labelOverlap": false}},
               "y": {"field": "y", "type": "quantitative", "title": "NORMALIZED RMSE", "scale": {"domain": [4, 21], "padding": 4, "nice": false, "zero": false}, "axis": {"values": [4,5,6,7,8,9,10,11,12,13,14,15,16,17,18,19,20,21], "labelOverlap": false}},
               "color": {"field": "m", "type": "nominal", "title": null, "scale": {"domain": ["HAAAGF","HAMF","HAAVF","HAUF"], "range": ["#e8202a","#21912f","#2323d0","#858585"]}},
               "shape": {"field": "s", "type": "nominal", "legend": null, "scale": {"domain": ["o","cp","sq","tri","+","x","*"], "range": ["circle","M1,0A1,1 0 1,1 -1,0A1,1 0 1,1 1,0ZM-1,0H1M0,-1V1","square","triangle-up","M-0.8,0H0.8M0,-0.8V0.8","M-0.7,-0.7L0.7,0.7M-0.7,0.7L0.7,-0.7","M-0.8,0H0.8M0,-0.8V0.8M-0.6,-0.6L0.6,0.6M-0.6,0.6L0.6,-0.6"]}}
             }},
            {"data": {"name": "lns"}, "transform": [{"filter": "datum.p == 'e'"}],
             "mark": {"type": "line", "strokeWidth": 2},
             "encoding": {"x": {"field": "x", "type": "quantitative"}, "y": {"field": "y", "type": "quantitative"}, "color": {"field": "m", "type": "nominal"}}}
          ]
        }
      ]
    },
    {
      "resolve": {"scale": {"color": "independent", "shape": "independent"}, "legend": {"color": "independent", "shape": "independent"}},
      "spacing": 18,
      "hconcat": [
        {
          "width": 338, "height": 239, "title": "c)",
          "layer": [
            {"data": {"name": "pts"}, "transform": [{"filter": "datum.p == 'c'"}],
             "mark": {"type": "point", "filled": false, "strokeWidth": 1, "opacity": 0.45, "size": 90},
             "encoding": {
               "x": {"field": "x", "type": "quantitative", "title": "NEX", "scale": {"domain": [1, 3], "padding": 7, "nice": false, "zero": false}, "axis": {"values": [1,2,3], "labelOverlap": false}},
               "y": {"field": "y", "type": "quantitative", "title": "NORMALIZED RMSE", "scale": {"domain": [6, 19], "padding": 4, "nice": false, "zero": false}, "axis": {"values": [6,7,8,9,10,11,12,13,14,15,16,17,18,19], "labelOverlap": false}},
               "color": {"field": "m", "type": "nominal", "title": null, "scale": {"domain": ["HAAAGF","HAMF","HAAVF","HAUF"], "range": ["#e8202a","#21912f","#2323d0","#858585"]}},
               "shape": {"field": "s", "type": "nominal", "legend": null, "scale": {"domain": ["o","cp","sq","tri","+","x","*"], "range": ["circle","M1,0A1,1 0 1,1 -1,0A1,1 0 1,1 1,0ZM-1,0H1M0,-1V1","square","triangle-up","M-0.8,0H0.8M0,-0.8V0.8","M-0.7,-0.7L0.7,0.7M-0.7,0.7L0.7,-0.7","M-0.8,0H0.8M0,-0.8V0.8M-0.6,-0.6L0.6,0.6M-0.6,0.6L0.6,-0.6"]}}
             }},
            {"data": {"name": "lns"}, "transform": [{"filter": "datum.p == 'c'"}],
             "mark": {"type": "line", "strokeWidth": 2},
             "encoding": {"x": {"field": "x", "type": "quantitative"}, "y": {"field": "y", "type": "quantitative"}, "color": {"field": "m", "type": "nominal"}}},
            {"data": {"values": [{"t": "64 DED"}]},
             "mark": {"type": "text", "font": "Liberation Serif", "fontSize": 17, "fontWeight": "bold", "color": "#111111"},
             "encoding": {"x": {"datum": 2.0}, "y": {"datum": 18.05}, "text": {"field": "t"}}}
          ]
        },
        {
          "width": 345, "height": 239, "title": "f)",
          "layer": [
            {"data": {"name": "pts"}, "transform": [{"filter": "datum.p == 'f'"}],
             "mark": {"type": "point", "filled": false, "strokeWidth": 1, "opacity": 0.45, "size": 90},
             "encoding": {
               "x": {"field": "x", "type": "quantitative", "title": "NEX", "scale": {"domain": [1, 3], "padding": 7, "nice": false, "zero": false}, "axis": {"values": [1,2,3], "labelOverlap": false}},
               "y": {"field": "y", "type": "quantitative", "title": "NORMALIZED RMSE", "scale": {"domain": [3, 17], "padding": 4, "nice": false, "zero": false}, "axis": {"values": [3,4,5,6,7,8,9,10,11,12,13,14,15,16,17], "labelOverlap": false}},
               "color": {"field": "m", "type": "nominal", "title": null, "scale": {"domain": ["HAAAGF","HAMF","HAAVF","HAUF"], "range": ["#e8202a","#21912f","#2323d0","#858585"]}},
               "shape": {"field": "s", "type": "nominal", "legend": null, "scale": {"domain": ["o","cp","sq","tri","+","x","*"], "range": ["circle","M1,0A1,1 0 1,1 -1,0A1,1 0 1,1 1,0ZM-1,0H1M0,-1V1","square","triangle-up","M-0.8,0H0.8M0,-0.8V0.8","M-0.7,-0.7L0.7,0.7M-0.7,0.7L0.7,-0.7","M-0.8,0H0.8M0,-0.8V0.8M-0.6,-0.6L0.6,0.6M-0.6,0.6L0.6,-0.6"]}}
             }},
            {"data": {"name": "lns"}, "transform": [{"filter": "datum.p == 'f'"}],
             "mark": {"type": "line", "strokeWidth": 2},
             "encoding": {"x": {"field": "x", "type": "quantitative"}, "y": {"field": "y", "type": "quantitative"}, "color": {"field": "m", "type": "nominal"}}}
          ]
        }
      ]
    }
  ]
}
